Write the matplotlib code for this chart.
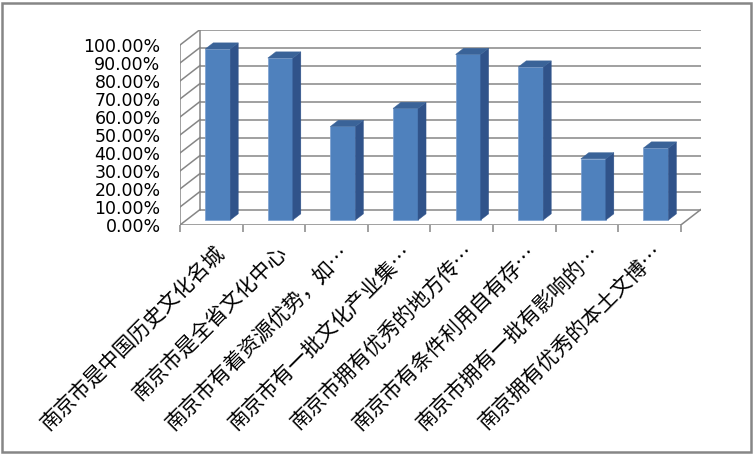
import matplotlib
matplotlib.use('Agg')
import matplotlib.pyplot as plt
from matplotlib.patches import Polygon, Rectangle
import numpy as np

plt.rcParams['font.family'] = ['DejaVu Sans', 'Noto Sans CJK SC']

# data
categories = ['南京市是中国历史文化名城', '南京市是全省文化中心', '南京市有着资源优势，如…',
              '南京市有一批文化产业集…', '南京市拥有优秀的地方传…', '南京市有条件利用自有存…',
              '南京市拥有一批有影响的…', '南京拥有优秀的本土文博…']
values = [0.95, 0.90, 0.52, 0.62, 0.92, 0.85, 0.34, 0.40]
yticks = [0, 0.1, 0.2, 0.3, 0.4, 0.5, 0.6, 0.7, 0.8, 0.9, 1.0]
ytick_labels = ['%.2f%%' % (t * 100) for t in yticks]

# 3d look: offset of back wall in data units
DX = 0.32
DY = 0.086
d0, d1 = 0.32, 0.72   # bar depth range (fraction of depth)
bw = 0.4
grid_col = '#868686'

fig = plt.figure(figsize=(7.54, 4.54), dpi=100)
n = len(categories)
ax = fig.add_axes([180 / 754, (454 - 225) / 454, (n + DX) * 62.6 / 754, (1 + DY) * 180 / 454])
ax.set_xlim(0, n + DX)
ax.set_ylim(0, 1 + DY)
for s in ax.spines.values():
    s.set_visible(False)
ax.patch.set_visible(False)

# back wall gridlines + left wall
for t in yticks:
    ax.plot([DX, n + DX], [t + DY, t + DY], color=grid_col, lw=1.1, zorder=1)
    ax.plot([0, DX], [t, t + DY], color=grid_col, lw=1.1, zorder=1)
ax.plot([0, 0], [0, 1], color=grid_col, lw=1.1, zorder=1)
ax.plot([DX, DX], [DY, 1 + DY], color=grid_col, lw=1.1, zorder=1)
# floor
ax.plot([0, n], [0, 0], color=grid_col, lw=1.1, zorder=1)
ax.plot([n, n + DX], [0, DY], color=grid_col, lw=1.1, zorder=1)

# bars
x = np.arange(n) + 0.5 - bw / 2 + d0 * DX
base = d0 * DY
ax.bar(x, values, width=bw, bottom=base, align='edge', color='#4F81BD',
       edgecolor='#7A9FCF', linewidth=0.5, zorder=3)
ddx = (d1 - d0) * DX
ddy = (d1 - d0) * DY
for xi, v in zip(x, values):
    xr = xi + bw
    top = base + v
    side = Polygon([(xr, base), (xr + ddx, base + ddy), (xr + ddx, top + ddy), (xr, top)],
                   closed=True, facecolor='#30538A', edgecolor='#30538A', lw=0.3, zorder=3)
    cap = Polygon([(xi, top), (xr, top), (xr + ddx, top + ddy), (xi + ddx, top + ddy)],
                  closed=True, facecolor='#3A6398', edgecolor='#3A6398', lw=0.3, zorder=3)
    ax.add_patch(side)
    ax.add_patch(cap)

# axes ticks and labels
ax.set_yticks(yticks)
ax.set_yticklabels(ytick_labels, fontsize=12.5)
ax.tick_params(axis='y', length=0, pad=14)
ax.set_xticks(np.arange(n + 1))
ax.set_xticklabels([])
ax.tick_params(axis='x', which='major', length=5, width=1.1, color=grid_col, direction='out')
ax.set_xticks(np.arange(n) + 0.54, minor=True)
ax.set_xticklabels(categories, minor=True, rotation=45, ha='right', va='top',
                   rotation_mode='anchor', fontsize=15, family=['Noto Sans CJK SC', 'DejaVu Sans'])
ax.tick_params(axis='x', which='minor', length=0, pad=12)

# chart border
fig.patches.append(Rectangle((2 / 754, 2 / 454), 749 / 754, 449 / 454, transform=fig.transFigure,
                             fill=False, edgecolor='#868686', lw=1.8))

plt.savefig('out.png', dpi=100)
